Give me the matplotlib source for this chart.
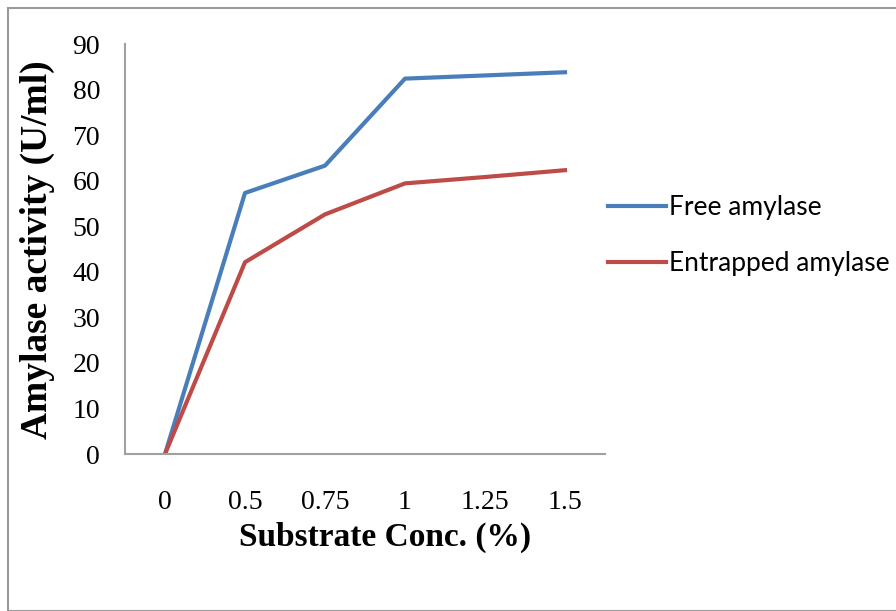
import matplotlib
matplotlib.use("Agg")
import matplotlib.pyplot as plt
from matplotlib.patches import Rectangle

categories = ["0", "0.5", "0.75", "1", "1.25", "1.5"]
free_amylase = [0, 57.3, 63.3, 82.4, 83.1, 83.8]
entrapped_amylase = [0, 42.1, 52.6, 59.4, 60.8, 62.3]
y_ticks = [0, 10, 20, 30, 40, 50, 60, 70, 80, 90]

W, H = 896, 611
fig = plt.figure(figsize=(W / 100, H / 100), dpi=100)
fig.patch.set_facecolor("white")
fig.add_artist(Rectangle((8 / W, 0), 1, 1 - 8 / H, transform=fig.transFigure,
                         fill=False, edgecolor="#9a9a9a", linewidth=1.5))

ax = fig.add_axes([125 / W, 1 - 454 / H, 480 / W, 410 / H])
x = list(range(len(categories)))
ax.plot(x, free_amylase, color="#4A7EBB", linewidth=3, label="Free amylase")
ax.plot(x, entrapped_amylase, color="#BE4B48", linewidth=3, label="Entrapped amylase")

ax.set_xlim(-0.5, len(categories) - 0.5)
ax.set_ylim(0, 90)
ax.set_xticks(x)
ax.set_xticklabels(categories, fontfamily="Liberation Serif", fontsize=20)
ax.set_yticks(y_ticks)
ax.set_yticklabels([str(v) for v in y_ticks], fontfamily="Liberation Serif", fontsize=20)
ax.tick_params(axis="both", length=0)
ax.tick_params(axis="x", pad=26)
ax.tick_params(axis="y", pad=18)
for s in ["top", "right"]:
    ax.spines[s].set_visible(False)
for s in ["left", "bottom"]:
    ax.spines[s].set_color("#a0a0a0")
    ax.spines[s].set_linewidth(1.5)

ax.set_xlabel("Substrate Conc. (%)", fontfamily="Liberation Serif", fontweight="bold",
              fontsize=24, va="center", ha="center")
ax.xaxis.set_label_coords((385 - 125) / 480, (454 - 537) / 410)
ax.set_ylabel("Amylase activity (U/ml)", fontfamily="Liberation Serif", fontweight="bold",
              fontsize=27, va="center", ha="center", rotation=90,
              rotation_mode="default")
ax.yaxis.set_label_coords((37 - 125) / 480, (454 - 250) / 410)

leg = ax.legend(loc="upper left", bbox_to_anchor=(608 / W, 1 - 195 / H),
                bbox_transform=fig.transFigure, frameon=False, borderpad=0,
                borderaxespad=0, prop={"family": "Lato", "size": 19},
                handlelength=2.2, handletextpad=0.1, labelspacing=1.18)

fig.savefig("out.png", dpi=100)
